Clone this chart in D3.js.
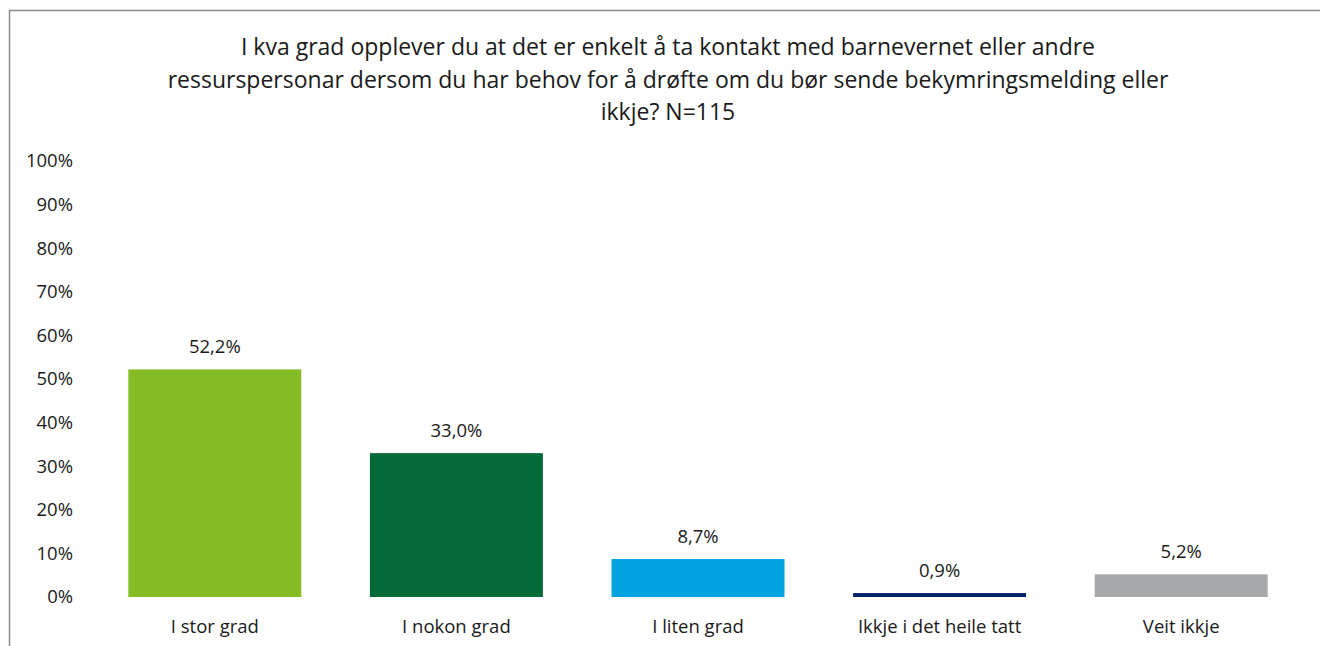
<!DOCTYPE html>
<html>
<head>
<meta charset="utf-8">
<script src="https://cdn.jsdelivr.net/npm/d3@7"></script>
<style>
  body { margin: 0; background: #fff; }
  text { font-family: "Open Sans", sans-serif; fill: #1a1a1a; }
</style>
</head>
<body>
<div class="chart"></div>
<script>
// data
var categories = ["I stor grad", "I nokon grad", "I liten grad", "Ikkje i det heile tatt", "Veit ikkje"];
var values = [52.2, 33.0, 8.7, 0.9, 5.2];
var barColors = ["#86BC25", "#046A38", "#00A3E0", "#012169", "#A7A8AA"];
var yTicks = [0, 10, 20, 30, 40, 50, 60, 70, 80, 90, 100];
var titleLines = [
  "I kva grad opplever du at det er enkelt å ta kontakt med barnevernet eller andre",
  "ressurspersonar dersom du har behov for å drøfte om du bør sende bekymringsmelding eller",
  "ikkje? N=115"
];

var svgWidth = 1320, svgHeight = 646;
var fontFam = "'Open Sans', sans-serif";

var svg = d3.select(".chart")
  .append("svg")
  .attr("width", svgWidth)
  .attr("height", svgHeight);

// chart frame (runs off the right and bottom of the picture)
svg.append("rect")
  .attr("x", 9.5).attr("y", 10.5)
  .attr("width", 1330).attr("height", 660)
  .attr("fill", "none")
  .attr("stroke", "#8c8c8c")
  .attr("stroke-width", 1.5);

// title
svg.append("g").selectAll("text")
  .data(titleLines)
  .enter()
  .append("text")
  .attr("x", 668)
  .attr("y", (d, i) => 55 + i * 32.5)
  .attr("text-anchor", "middle")
  .attr("font-size", 23)
  .text(d => d);

var xScale = d3.scaleBand()
  .domain(categories)
  .range([94, 1302])
  .paddingInner(0.284)
  .paddingOuter(0.142);

var yScale = d3.scaleLinear()
  .domain([0, 100])
  .range([597, 161]);

// y axis: labels only
var yAxis = d3.axisLeft(yScale)
  .tickValues(yTicks)
  .tickFormat(d => d + "%")
  .tickSize(0)
  .tickPadding(0);

var yG = svg.append("g")
  .attr("transform", "translate(73,0)")
  .call(yAxis);
yG.select(".domain").remove();
yG.selectAll("text")
  .attr("font-size", 18.5)
  .attr("font-family", fontFam)
  .attr("fill", "#1a1a1a");

// x axis: category labels only
var xAxis = d3.axisBottom(xScale).tickSize(0).tickPadding(0);
var xG = svg.append("g")
  .attr("transform", "translate(0,620)")
  .call(xAxis);
xG.select(".domain").remove();
xG.selectAll("text")
  .attr("font-size", 18.5)
  .attr("font-family", fontFam)
  .attr("fill", "#1a1a1a");

// bars
svg.append("g").selectAll("rect")
  .data(values)
  .enter()
  .append("rect")
  .attr("x", (d, i) => xScale(categories[i]))
  .attr("y", d => yScale(d))
  .attr("width", xScale.bandwidth())
  .attr("height", d => yScale(0) - yScale(d))
  .attr("fill", (d, i) => barColors[i]);

// value labels
svg.append("g").selectAll("text")
  .data(values)
  .enter()
  .append("text")
  .attr("x", (d, i) => xScale(categories[i]) + xScale.bandwidth() / 2)
  .attr("y", d => yScale(d) - 16)
  .attr("text-anchor", "middle")
  .attr("font-size", 18.5)
  .text(d => d.toFixed(1).replace(".", ",") + "%");
</script>
</body>
</html>
